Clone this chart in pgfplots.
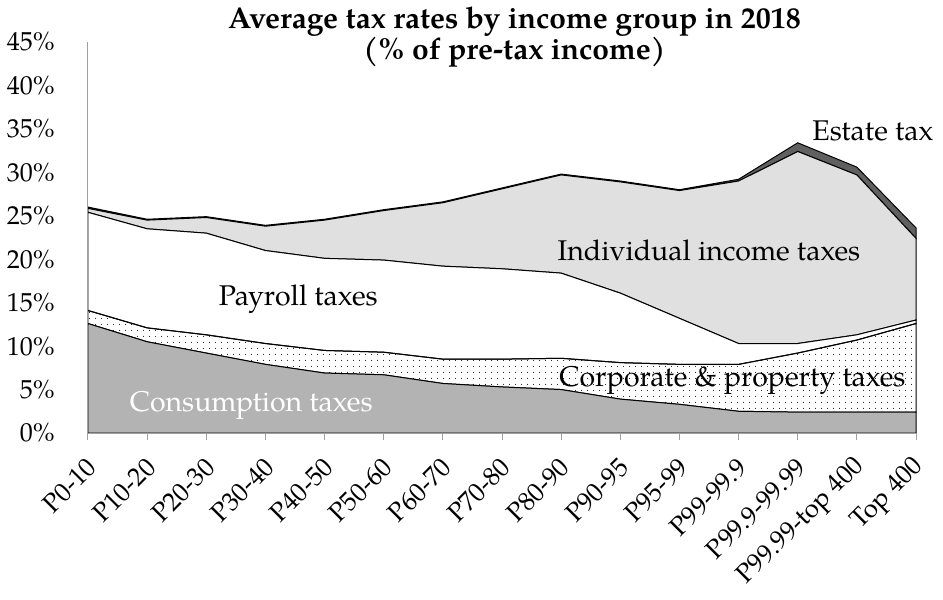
\documentclass[border=0pt]{standalone}
\usepackage{fontspec}
\setmainfont{TeX Gyre Pagella}
\usepackage{pgfplots}
\usepackage{pgfplotstable}
\pgfplotsset{compat=1.18}
\usetikzlibrary{patterns.meta}
\definecolor{cons}{RGB}{179,179,179}
\definecolor{indiv}{RGB}{224,224,224}
\definecolor{estate}{RGB}{96,96,96}
\definecolor{axgray}{RGB}{160,160,160}

\pgfplotstableread{
x cons corp payroll indiv estate
0  12.6 1.5 11.3 0.45 0.15
1  10.5 1.6 11.4 1.0 0.1
2  9.2  2.1 11.7 1.8 0.1
3  7.9  2.4 10.7 2.8 0.1
4  6.9  2.6 10.6 4.4 0.1
5  6.7  2.6 10.6 5.7 0.1
6  5.7  2.8 10.7 7.3 0.1
7  5.3  3.2 10.4 9.2 0.1
8  5.0  3.6 9.8 11.3 0.1
9  3.9  4.2 8.0 12.8 0.1
10 3.3  4.6 5.3 14.7 0.1
11 2.5  5.4 2.4 18.7 0.2
12 2.4  6.8 1.1 22.1 1.0
13 2.4  8.3 0.6 18.4 0.9
14 2.4  10.2 0.4 9.4 1.2
}\data

\begin{document}
\begin{tikzpicture}[font=\fontsize{28.5bp}{33bp}\selectfont]
\begin{axis}[
  scale only axis, width=828bp, height=391bp,
  xmin=0, xmax=14, ymin=0, ymax=45,
  stack plots=y,
  axis x line=bottom, axis y line=left,
  axis line style={-, axgray, line width=1bp},
  xtick={0,...,14},
  xticklabels={P0-10,P10-20,P20-30,P30-40,P40-50,P50-60,P60-70,P70-80,P80-90,P90-95,P95-99,P99-99.9,P99.9-99.99,P99.99-top 400,Top 400},
  x tick style={axgray, line width=1bp},
  major tick length=7bp,
  tick align=outside,
  ytick={0,5,...,45},
  ytick style={draw=none},
  yticklabel={\pgfmathprintnumber{\tick}\%},
  /pgf/number format/assume math mode=true,
  yticklabel style={anchor=east, inner sep=0pt, xshift=-26bp, font=\fontsize{26bp}{30bp}\selectfont},
  xticklabel style={xshift=4bp, yshift=-23bp, rotate=45, anchor=east, inner sep=0pt, font=\fontsize{26bp}{30bp}\selectfont},
  axis on top,
  clip=false,
]
\addplot[fill=cons, draw=black, line width=1bp] table[x=x,y=cons]{\data} \closedcycle;
\addplot[pattern={Dots[distance=6bp,radius=0.6bp]}, pattern color=black, draw=black, line width=1bp] table[x=x,y=corp]{\data} \closedcycle;
\addplot[fill=white, draw=black, line width=1bp] table[x=x,y=payroll]{\data} \closedcycle;
\addplot[fill=indiv, draw=black, line width=1bp] table[x=x,y=indiv]{\data} \closedcycle;
\addplot[fill=estate, draw=black, line width=1bp] table[x=x,y=estate]{\data} \closedcycle;
\coordinate (lcons) at (axis cs:2.76,2.45);
\coordinate (lpay) at (axis cs:3.556,14.62);
\coordinate (lind) at (axis cs:10.50,19.91);
\coordinate (lcorp) at (axis cs:10.897,5.33);
\coordinate (lest) at (axis cs:13.27,33.64);
\coordinate (lt1) at (axis cs:7.21,46.5);
\coordinate (lt2) at (axis cs:7.21,42.93);
\end{axis}
\node[anchor=base, text=white] at (lcons) {Consumption taxes};
\node[anchor=base] at (lpay) {Payroll taxes};
\node[anchor=base] at (lind) {Individual income taxes};
\node[anchor=base] at (lcorp) {Corporate \& property taxes};
\node[anchor=base] at (lest) {Estate tax};
\node[anchor=base, font=\fontsize{30bp}{34bp}\selectfont\bfseries] at (lt1) {Average tax rates by income group in 2018};
\node[anchor=base, font=\fontsize{30bp}{34bp}\selectfont\bfseries] at (lt2) {(\% of pre-tax income)};
\pgfresetboundingbox
\path ([shift={(-88bp,-167bp)}]current axis.south west) rectangle ([shift={(855bp,433bp)}]current axis.south west);
\end{tikzpicture}
\end{document}
